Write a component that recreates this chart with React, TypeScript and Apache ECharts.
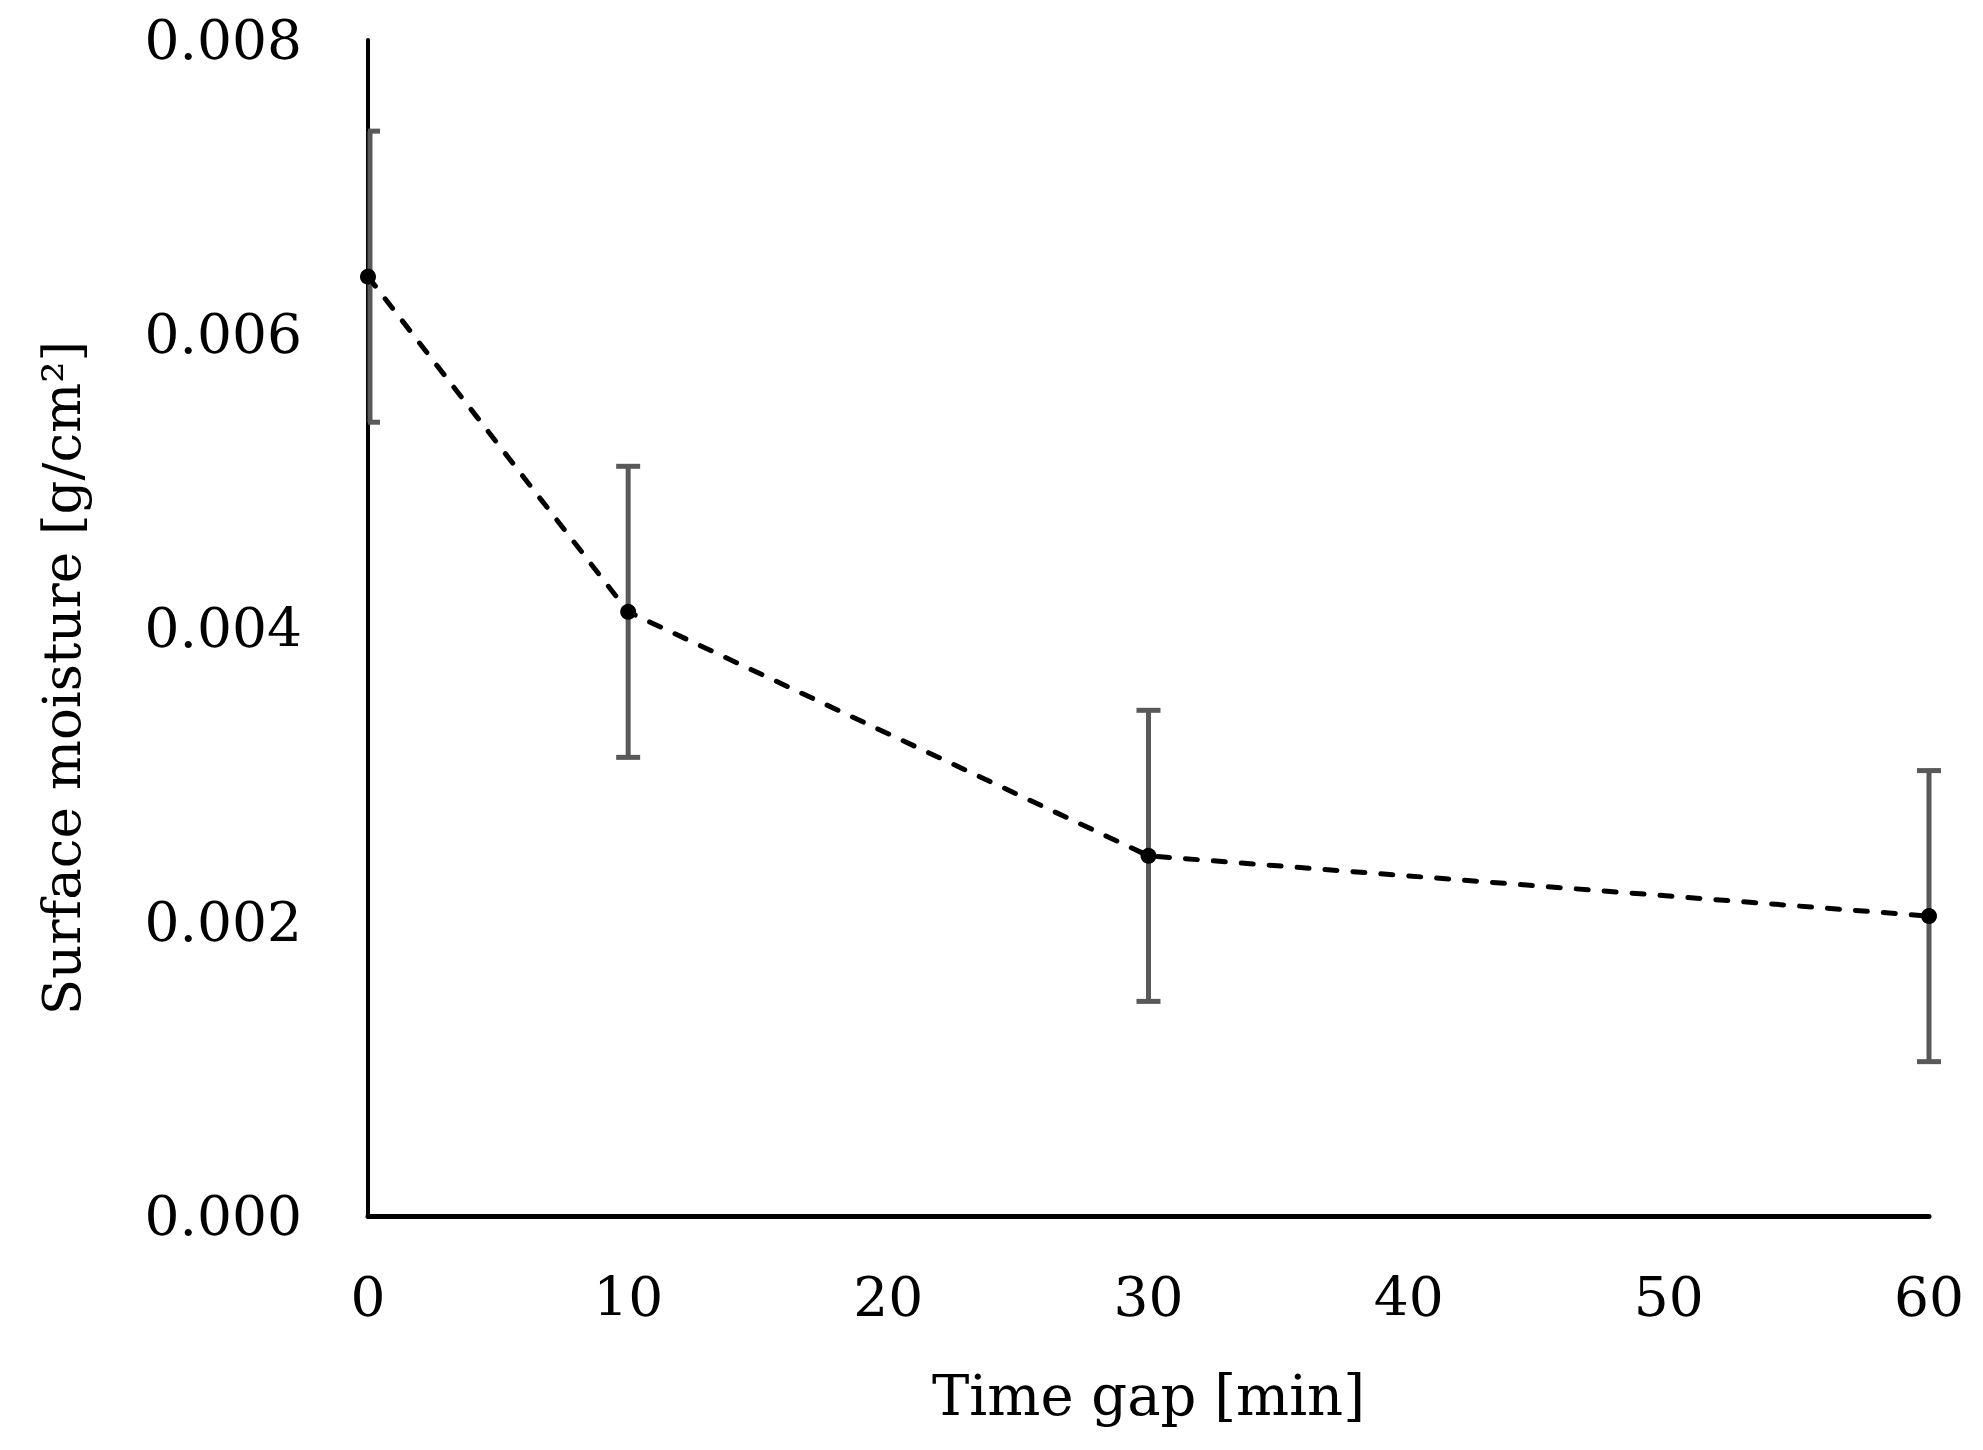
import { useEffect, useRef } from "react";
import * as echarts from "echarts";

const xValues = [0, 10, 30, 60];
const moisture = [0.00639, 0.00411, 0.00245, 0.00204];
const errors = [0.00099, 0.00099, 0.00099, 0.00099];
const xAxisTitle = "Time gap [min]";
const yAxisTitle = "Surface moisture [g/cm²]";

const FONT = "DejaVu Serif";

export default function App() {
  const ref = useRef<HTMLDivElement>(null);
  useEffect(() => {
    if (!ref.current) return;
    const chart = echarts.init(ref.current, null, { renderer: "svg" });
    const renderItem = (params: any, api: any) => {
      const x = api.value(0);
      const lo = api.value(1);
      const hi = api.value(2);
      const pLo = api.coord([x, lo]);
      const pHi = api.coord([x, hi]);
      const left = params.coordSys.x;
      const hw = 12;
      const vx = pLo[0] < left + 2 ? left + 2 : pLo[0];
      const capL = Math.max(pHi[0] - hw, left);
      const capR = pHi[0] + hw;
      const style = { stroke: "#595959", lineWidth: 5, fill: "none" };
      return {
        type: "group",
        children: [
          { type: "line", shape: { x1: vx, y1: pLo[1], x2: vx, y2: pHi[1] }, style },
          { type: "line", shape: { x1: capL, y1: pHi[1], x2: capR, y2: pHi[1] }, style },
          { type: "line", shape: { x1: capL, y1: pLo[1], x2: capR, y2: pLo[1] }, style },
        ],
      };
    };
    chart.setOption({
      animation: false,
      backgroundColor: "#ffffff",
      grid: { left: 368, right: 54, top: 40, bottom: 234, containLabel: false },
      xAxis: {
        type: "value",
        min: 0,
        max: 60,
        interval: 10,
        name: xAxisTitle,
        nameLocation: "middle",
        nameGap: 151,
        nameTextStyle: { fontFamily: FONT, fontSize: 56, color: "#000" },
        axisLine: { show: true, lineStyle: { color: "#000", width: 5 } },
        axisTick: { show: false },
        splitLine: { show: false },
        axisLabel: { fontFamily: FONT, fontSize: 55, color: "#000", margin: 53 },
      },
      yAxis: {
        type: "value",
        min: 0,
        max: 0.008,
        interval: 0.002,
        axisLine: { show: true, lineStyle: { color: "#000", width: 4 } },
        axisTick: { show: false },
        splitLine: { show: false },
        axisLabel: {
          fontFamily: FONT,
          fontSize: 55,
          color: "#000",
          margin: 66,
          formatter: (v: number) => v.toFixed(3),
        },
      },
      graphic: [
        {
          type: "text",
          x: 61,
          y: 678,
          rotation: Math.PI / 2,
          style: {
            text: yAxisTitle,
            fontFamily: FONT,
            fontSize: 53,
            fill: "#000",
            align: "center",
            verticalAlign: "middle",
          },
        },
      ],
      series: [
        {
          type: "custom",
          renderItem,
          clip: false,
          encode: { x: 0, y: [1, 2] },
          data: xValues.map((x, i) => [x, moisture[i] - errors[i], moisture[i] + errors[i]]),
          z: 1,
        },
        {
          type: "line",
          data: xValues.map((x, i) => [x, moisture[i]]),
          symbol: "circle",
          symbolSize: 16,
          itemStyle: { color: "#000" },
          lineStyle: { color: "#000", width: 5, type: [12, 16], cap: "round" },
          z: 3,
        },
      ],
    });
    return () => chart.dispose();
  }, []);
  return (
    <div
      ref={ref}
      style={{ position: "fixed", left: 0, top: 0, width: 1983, height: 1450 }}
    />
  );
}
